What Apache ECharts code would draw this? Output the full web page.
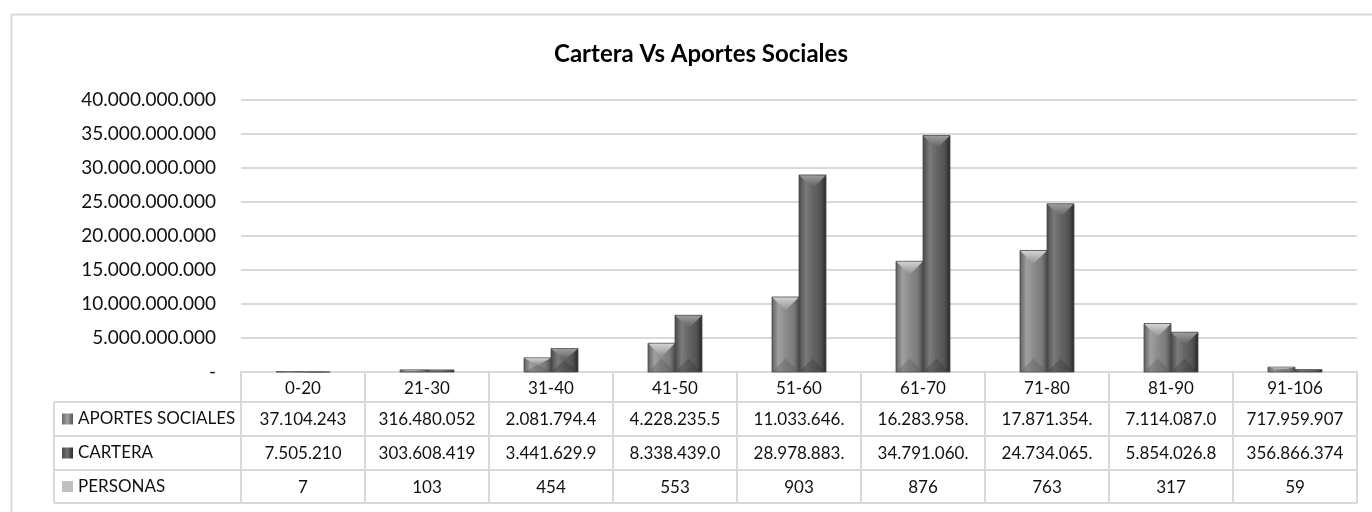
<!DOCTYPE html>
<html>
<head>
<meta charset="utf-8"/>
<title>Cartera Vs Aportes Sociales</title>
<script src="https://cdn.jsdelivr.net/npm/echarts@6/dist/echarts.min.js"></script>
<style>
html,body{margin:0;padding:0;background:#fff}
#main{width:1372px;height:512px}
</style>
</head>
<body>
<div id="main"></div>
<script>
var rangos = ['0-20','21-30','31-40','41-50','51-60','61-70','71-80','81-90','91-106'];
var aportes = [37104243, 316480052, 2081794400, 4228235500, 11033646000, 16283958000, 17871354000, 7114087000, 717959907];
var cartera = [7505210, 303608419, 3441629900, 8338439000, 28978883000, 34791060000, 24734065000, 5854026800, 356866374];
var personas = [7, 103, 454, 553, 903, 876, 763, 317, 59];
var filas = ['APORTES SOCIALES', 'CARTERA', 'PERSONAS'];

var FONT = 'Lato, "Liberation Sans", sans-serif';
var LINE = '#d9d9d9';

function puntos(n){
    return Math.round(n).toString().replace(/\B(?=(\d{3})+(?!\d))/g, '.');
}
// excel corta el texto que no cabe en la celda
function celda(arr, i){
    return puntos(arr[i]).slice(0, 11);
}

// colores de las barras con bisel
var estilos = [
    {body:['#5e5e5e','#a0a0a0','#8c8c8c','#7a7a7a','#4a4a4a'], top:['#d2d2d2','#909090'], bot:'#505050'},
    {body:['#474747','#7a7a7a','#666666','#525252','#262626'], top:['#9c9c9c','#5c5c5c'], bot:'#2e2e2e'}
];

function barraBisel(serie){
    return function(params, api){
        var i = api.value(0), v = api.value(1);
        var base = api.coord([i, 0]);
        var top = api.coord([i, v]);
        var cw = api.size([1, 0])[0];
        var bw = Math.round(cw * 0.22);
        var x0 = serie === 0 ? base[0] - bw : base[0];
        var h = base[1] - top[1];
        var b = Math.min(bw / 2, h / 2);
        var st = estilos[serie];
        var g = new echarts.graphic.LinearGradient(0, 0, 1, 0, [
            {offset:0, color:st.body[0]}, {offset:0.25, color:st.body[1]},
            {offset:0.5, color:st.body[2]}, {offset:0.8, color:st.body[3]},
            {offset:1, color:st.body[4]}
        ]);
        return {
            type:'group',
            children:[
                {type:'rect', shape:{x:x0, y:top[1], width:bw, height:h},
                 style:{fill:g, stroke:'#4a4a4a', lineWidth:0.8}},
                {type:'polygon', shape:{points:[[x0+0.5, top[1]+0.5],[x0+bw-0.5, top[1]+0.5],[x0+bw/2, top[1]+b]]},
                 style:{fill:new echarts.graphic.LinearGradient(0,0,0,1,[{offset:0,color:st.top[0]},{offset:1,color:st.top[1]}])}},
                {type:'polygon', shape:{points:[[x0+0.5, base[1]-0.5],[x0+bw-0.5, base[1]-0.5],[x0+bw/2, base[1]-b]]},
                 style:{fill:st.bot, opacity:0.3}}
            ]
        };
    };
}

var chart = echarts.init(document.getElementById('main'), null, {renderer:'canvas'});

var gl = 241, gr = 15, gt = 100, gb = 140;
var rowTops = [372, 402, 436, 470, 503];
var hdrLeft = 54;

function filaEje(arr, off){
    return {
        type:'category', data:rangos, position:'bottom', offset:off, gridIndex:0,
        axisLine:{show:false}, axisTick:{show:false},
        axisLabel:{margin:9, fontSize:17, fontFamily:FONT, color:'#111', interval:0, hideOverlap:false,
            formatter:function(v, i){ return celda(arr, i); }}
    };
}

var graficos = [
    {type:'rect', left:9, top:12, shape:{width:1500, height:600}, style:{fill:null, stroke:LINE, lineWidth:2}, silent:true}
];
// lineas horizontales de la tabla
for (var r = 1; r < rowTops.length; r++) {
    graficos.push({type:'line', shape:{x1:hdrLeft, y1:rowTops[r], x2:1372-gr, y2:rowTops[r]}, style:{stroke:LINE, lineWidth:2}});
}
graficos.push({type:'line', shape:{x1:hdrLeft, y1:rowTops[1], x2:hdrLeft, y2:rowTops[4]}, style:{stroke:LINE, lineWidth:2}});
// encabezados de fila con su clave
var claves = [
    new echarts.graphic.LinearGradient(0,0,1,0,[{offset:0,color:'#6a6a6a'},{offset:0.5,color:'#a0a0a0'},{offset:1,color:'#555'}]),
    new echarts.graphic.LinearGradient(0,0,1,0,[{offset:0,color:'#4a4a4a'},{offset:0.5,color:'#707070'},{offset:1,color:'#2a2a2a'}]),
    '#c0c0c0'
];
for (var k = 0; k < filas.length; k++) {
    var cy = (rowTops[k+1] + rowTops[k+2]) / 2;
    graficos.push({type:'rect', shape:{x:62, y:cy-5.5, width:11, height:11}, style:{fill:claves[k]}});
    graficos.push({type:'text', x:78, y:cy, style:{text:filas[k], font:'17px ' + FONT, fill:'#111', verticalAlign:'middle', align:'left'}});
}

var option = {
    animation:false,
    title:{
        text:'Cartera Vs Aportes Sociales',
        left:696, top:37, textAlign:'center',
        textStyle:{fontFamily:FONT, fontSize:24, fontWeight:'bold', color:'#000'}
    },
    grid:{left:gl, right:gr, top:gt, bottom:gb, containLabel:false},
    xAxis:[
        {
            type:'category', data:rangos, position:'bottom', gridIndex:0,
            axisLine:{show:true, lineStyle:{color:LINE, width:2}},
            axisTick:{show:true, length:131, lineStyle:{color:LINE, width:2}},
            axisLabel:{margin:8, fontSize:17, fontFamily:FONT, color:'#111', interval:0}
        },
        filaEje(aportes, 30),
        filaEje(cartera, 64),
        filaEje(personas, 98)
    ],
    yAxis:{
        type:'value', min:0, max:40000000000, interval:5000000000,
        axisLine:{show:false}, axisTick:{show:false},
        splitLine:{lineStyle:{color:LINE, width:2}},
        axisLabel:{margin:25, fontSize:19, fontFamily:FONT, color:'#111',
            formatter:function(v){ return v === 0 ? '-' : puntos(v); }}
    },
    series:[
        {name:'APORTES SOCIALES', type:'custom', renderItem:barraBisel(0),
         encode:{x:0, y:1}, data:rangos.map(function(c, i){ return [i, aportes[i]]; })},
        {name:'CARTERA', type:'custom', renderItem:barraBisel(1),
         encode:{x:0, y:1}, data:rangos.map(function(c, i){ return [i, cartera[i]]; })}
    ],
    graphic:graficos
};
chart.setOption(option);
</script>
</body>
</html>
